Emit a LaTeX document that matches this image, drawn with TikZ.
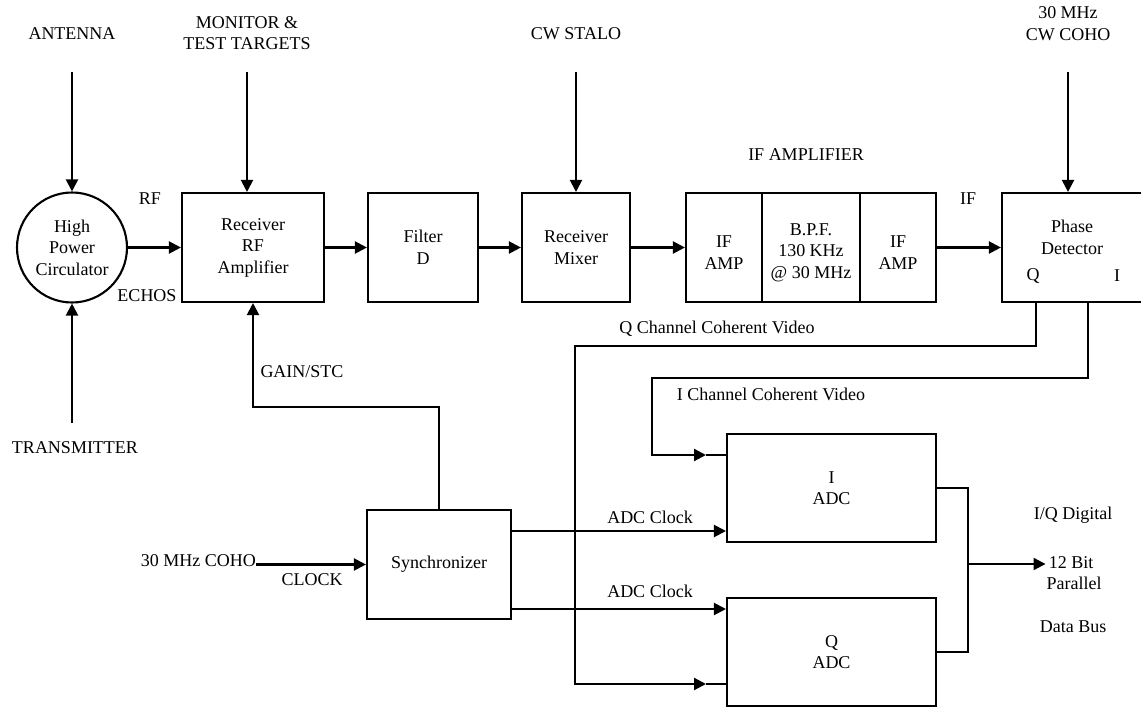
\documentclass[tikz,border=0pt]{standalone}
\usepackage{fontspec}
\setmainfont{Liberation Serif}
\usetikzlibrary{arrows.meta,positioning,calc}
\tikzset{
  blockbox/.style={draw, line width=2.1pt, align=center, inner sep=0pt, minimum height=109pt},
  wire/.style={line width=2.1pt},
  arr/.style={wire, -{Triangle[length=12pt,width=12pt]}},
  txt/.style={align=center, inner sep=0pt}
}

\begin{document}
\begin{tikzpicture}[x=1pt,y=-1pt,font=\fontsize{18}{21.5}\selectfont]
  \useasboundingbox (0,0) rectangle (1141,709);
  % receive chain
  \node[circle, draw, line width=2.1pt, minimum size=110pt, txt] (circ) at (72,247.5) {High\\Power\\Circulator};
  \node[blockbox, minimum width=142pt] (rfamp) at (253,247.5) {Receiver\\RF\\Amplifier};
  \node[blockbox, minimum width=110pt] (filt) at (423,247.5) {Filter\\D};
  \node[blockbox, minimum width=108pt] (mix) at (576,247.5) {Receiver\\Mixer};
  \node[blockbox, minimum width=76pt, text height=43.5pt] (ifa) at (724,247.5) {IF\\AMP};
  \node[blockbox, minimum width=98pt, text height=65pt] (bpf) at (811,247.5) {B.P.F.\\130 KHz\\@ 30 MHz};
  \node[blockbox, minimum width=76pt, text height=43.5pt] (ifb) at (898,247.5) {IF\\AMP};
  \node[blockbox, minimum width=143pt] (pd) at (1073.5,247.5) {};
  \node[txt] (pdtxt) at (1072,237.5) {Phase\\Detector};
  \node[txt] (pdq) at (1033,276) {Q};
  \node[txt] (pdi) at (1117,276) {I};

  % video and digital side
  \node[blockbox, minimum width=144pt] (sync) at (439,564.5) {Synchronizer};
  \node[blockbox, minimum width=209pt, minimum height=108pt] (iadc) at (831.5,488) {I\\ADC};
  \node[blockbox, minimum width=209pt, minimum height=108pt] (qadc) at (831.5,652) {Q\\ADC};

  % labels
  \node[txt] (antlbl) at (72,34) {ANTENNA};
  \node[txt] (monlbl) at (247,33) {MONITOR \&\\TEST TARGETS};
  \node[txt] (stalolbl) at (576,34) {CW STALO};
  \node[txt] (coholbl) at (1068,23.5) {30 MHz\\CW COHO};
  \node[txt] (ifamplbl) at (806,155) {IF AMPLIFIER};
  \node[txt] (rflbl) at (150,199) {RF};
  \node[txt] (echolbl) at (147,296) {ECHOS};
  \node[txt] (iflbl) at (968,199) {IF};
  \node[txt] (txlbl) at (75,448) {TRANSMITTER};
  \node[txt] (gainlbl) at (302,372) {GAIN/STC};
  \node[txt] (qvidlbl) at (717,329) {Q Channel Coherent Video};
  \node[txt] (ividlbl) at (771,394) {I Channel Coherent Video};
  \node[txt, anchor=east] (clkin) at (256,561) {30 MHz COHO};
  \node[txt] (clklbl) at (312,580) {CLOCK};
  \node[txt] (adcclka) at (650,517) {ADC Clock};
  \node[txt] (adcclkb) at (650,591) {ADC Clock};
  \node[txt] (iqlbl) at (1073,515) {I/Q Digital};
  \node[txt] (bitlbl) at (1071,563) {12 Bit};
  \node[txt] (parlbl) at (1074,583) {Parallel};
  \node[txt] (buslbl) at (1073,627) {Data Bus};

  % inputs from above and below
  \coordinate (antin) at (72,72);
  \coordinate (monin) at (247,72);
  \coordinate (staloin) at (576,72);
  \coordinate (cohoin) at (1068,72);
  \coordinate (txin) at (72,423);
  \draw[arr] (antin) -- (circ.north);
  \draw[arr] (monin) -- (monin |- rfamp.north);
  \draw[arr] (staloin) -- (mix.north);
  \draw[arr] (cohoin) -- (cohoin |- pd.north);
  \draw[arr] (txin) -- (circ.south);

  % signal path
  \draw[arr] (circ.east) -- (rfamp.west);
  \draw[arr] (rfamp.east) -- (filt.west);
  \draw[arr] (filt.east) -- (mix.west);
  \draw[arr] (mix.east) -- (ifa.west);
  \draw[arr] (ifb.east) -- (pd.west);

  % coherent video to the ADCs
  \coordinate (qturn) at (575,346);
  \coordinate (qtip) at (706,684);
  \coordinate (iturn) at (652,378);
  \coordinate (itip) at (706,455);
  \draw[arr] ([xshift=-37.5pt]pd.south) |- (qturn) |- (qtip);
  \draw[wire] (qtip) -- (qtip -| qadc.west);
  \draw[arr] ([xshift=14.5pt]pd.south) |- (iturn) |- (itip);
  \draw[wire] (itip) -- (itip -| iadc.west);

  % synchronizer
  \coordinate (gainturn) at (253,407);
  \draw[arr] (sync.north) |- (gainturn) -- (rfamp.south);
  \draw[arr] (clkin.east |- sync.west) -- (sync.west);
  \draw[arr] ([yshift=33.5pt]sync.east) -- ([yshift=33.5pt]sync.east -| iadc.west);
  \draw[arr] ([yshift=-44.5pt]sync.east) -- ([yshift=-44.5pt]sync.east -| qadc.west);

  % data bus
  \coordinate (busx) at (968,564);
  \draw[wire] (iadc.east) -| (busx) |- (qadc.east);
  \draw[arr, shorten >=3pt] (busx) -- (busx -| bitlbl.west);
\end{tikzpicture}
\end{document}
